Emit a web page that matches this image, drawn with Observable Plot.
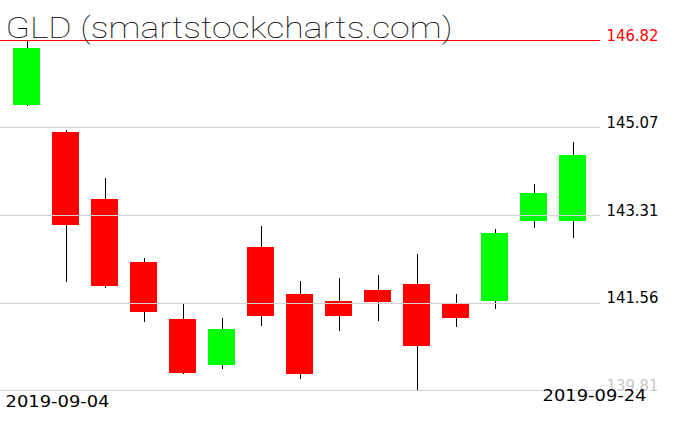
<!DOCTYPE html>
<html>
<head>
<meta charset="utf-8">
<script src="https://cdn.jsdelivr.net/npm/d3@7"></script>
<script src="https://cdn.jsdelivr.net/npm/@observablehq/plot@0.6"></script>
<style>
  html, body { margin: 0; padding: 0; background: #fff; }
</style>
</head>
<body>
<div id="chart"></div>
<script>
const title = "GLD (smartstockcharts.com)";
const dates = ["2019-09-04","2019-09-05","2019-09-06","2019-09-09","2019-09-10","2019-09-11","2019-09-12","2019-09-13","2019-09-16","2019-09-17","2019-09-18","2019-09-19","2019-09-20","2019-09-23","2019-09-24"];
const open  = [145.52,144.98,143.63,142.37,141.23,140.31,142.67,141.73,141.59,141.81,141.93,141.55,141.60,143.20,143.20];
const high  = [146.82,145.02,144.06,142.45,141.53,141.25,143.09,142.00,142.05,142.11,142.53,141.73,143.03,143.93,144.78];
const low   = [145.49,141.97,141.85,141.17,140.13,140.23,141.09,140.03,140.99,141.20,139.81,141.08,141.43,143.06,142.86];
const close = [146.66,143.12,141.89,141.37,140.15,141.03,141.29,140.13,141.29,141.57,140.69,141.26,142.95,143.75,144.52];
const tickValues = [146.82, 145.07, 143.31, 141.56, 139.81];
const tickLabels = ["146.82", "145.07", "143.31", "141.56", "139.81"];
const tickColors = ["#ff0000", "#000000", "#000000", "#000000", "#c8c8c8"];
const dateLabels = ["2019-09-04", "2019-09-24"];

const candles = dates.map((d, i) => ({
  date: d, open: open[i], high: high[i], low: low[i], close: close[i],
  up: close[i] >= open[i]
}));
const grid = tickValues.slice(1).map(v => ({v}));
const ticks = tickValues.map((v, i) => ({v, label: tickLabels[i], color: tickColors[i]}));

const plot = Plot.plot({
  width: 676,
  height: 431,
  margin: 0,
  style: {background: "#fff"},
  x: {type: "band", domain: dates, range: [6.5, 593], paddingInner: 0.31, paddingOuter: 0.155, axis: null},
  y: {domain: [139.81, 146.82], range: [390, 40], axis: null},
  marks: [
    Plot.ruleX(candles, {x: "date", y1: "low", y2: "high", stroke: "#000", strokeWidth: 1, shapeRendering: "crispEdges"}),
    Plot.rectY(candles, {x: "date", y1: "open", y2: "close", fill: d => d.up ? "#00ff00" : "#ff0000", shapeRendering: "crispEdges"}),
    Plot.ruleY(grid, {y: "v", stroke: "#d3d3d3", strokeWidth: 1, insetRight: 76, shapeRendering: "crispEdges"}),
    Plot.ruleY([tickValues[0]], {stroke: "#ff0000", strokeWidth: 1, insetRight: 76, shapeRendering: "crispEdges"}),
    Plot.text(ticks, {y: "v", text: "label", fill: "color", frameAnchor: "left", lineAnchor: "middle", dx: 606, dy: -4.8, textAnchor: "start", fontSize: 15, fontFamily: "DejaVu Sans"}),
    Plot.text([dateLabels[0]], {frameAnchor: "top-left", lineAnchor: "middle", dx: 5, dy: 401.2, textAnchor: "start", fontSize: 15, fontFamily: "DejaVu Sans", fill: "#000"}),
    Plot.text([dateLabels[1]], {frameAnchor: "top-right", lineAnchor: "middle", dx: -30, dy: 395.9, textAnchor: "end", fontSize: 15, fontFamily: "DejaVu Sans", fill: "#000"}),
    Plot.text([title], {frameAnchor: "top-left", lineAnchor: "middle", dx: 5, dy: 28, textAnchor: "start", fontSize: 30, fontFamily: "Roboto", fontWeight: 100, fill: "#000"})
  ]
});

// fit text widths to the reference
plot.querySelectorAll("text").forEach(t => {
  const s = t.textContent;
  if (s === title) { t.setAttribute("textLength", 447); t.setAttribute("lengthAdjust", "spacingAndGlyphs"); }
  else if (s === dateLabels[0] || s === dateLabels[1]) { t.setAttribute("textLength", 104); t.setAttribute("lengthAdjust", "spacingAndGlyphs"); }
  else if (tickLabels.includes(s)) { t.setAttribute("textLength", 52); t.setAttribute("lengthAdjust", "spacingAndGlyphs"); }
});

document.getElementById("chart").appendChild(plot);
</script>
</body>
</html>
